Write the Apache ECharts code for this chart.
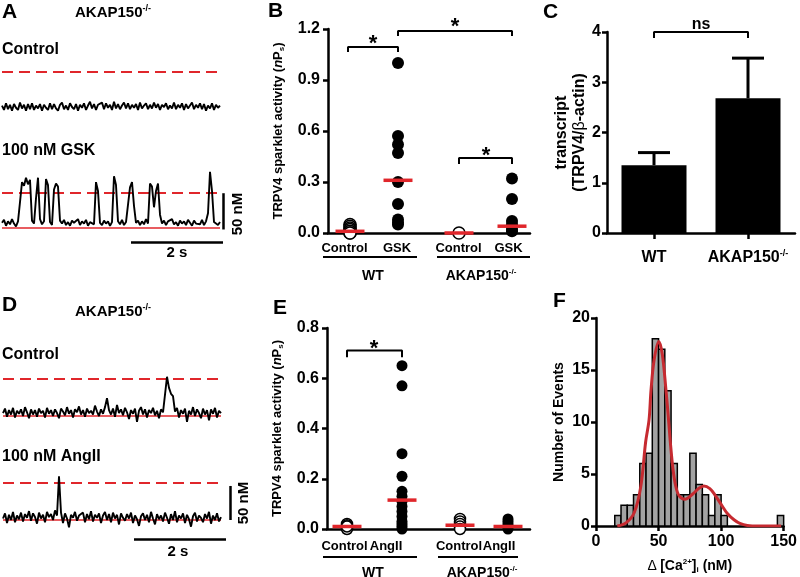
<!DOCTYPE html>
<html><head><meta charset="utf-8">
<script src="https://cdn.jsdelivr.net/npm/echarts@6/dist/echarts.min.js"></script>
<style>html,body{margin:0;padding:0;background:#fff}#c{width:800px;height:577px}</style>
</head><body><div id="c"></div>
<script>
// ================= DATA =================
// Panel A traces (nM, one sample per time step)
const traceA_control = [2,-4,5,-3,3,-5,4,-1,-4,6,-2,3,-5,4,-3,5,-4,2,-2,4,-5,3,-1,-4,5,-3,4,-2,-5,3,6,-3,2,-4,5,0,-3,4,-5,3,-1,5,-4,2,7,-2,4,-4,3,1,6,-3,5,-1,3,-4,7,-2,4,-3,2,6,-2,5,-3,3,-1,4,-4,6,-2,2,5,-3,3,-2,6,-1,4,-4,3,0,5,-3,2,-2,6,-3,3,-1,5,-4,4,-2,2,6,-3,3,-1,5,-3,4,-5,2,-2,5,-4,3,-1,2];
const traceA_gsk = [7,11,3,9,5,12,6,2,9,35,62,57,68,59,65,10,6,40,68,12,5,9,66,58,8,4,52,60,56,10,6,11,4,8,3,10,7,5,12,4,9,6,11,3,8,10,5,62,50,7,4,10,6,9,3,8,70,58,9,5,11,4,8,6,55,62,30,7,10,4,9,5,12,6,60,56,28,50,60,18,6,10,4,9,7,12,5,8,3,10,6,9,4,11,7,3,10,6,8,5,11,4,9,20,76,50,8,9,4,8];
// Panel D traces
const traceD_control = [4,10,-1,8,2,11,-2,7,3,9,0,12,5,-3,9,2,8,-1,10,4,7,-2,11,3,8,0,9,4,-3,10,6,1,12,3,8,-2,9,5,13,2,8,-1,10,4,7,2,14,6,0,9,3,12,24,8,2,10,-1,15,4,9,1,11,5,-4,8,3,10,-8,7,12,2,9,-2,8,4,11,1,7,-3,9,5,3,53,38,30,27,6,11,-2,8,3,10,-8,7,2,12,0,9,4,-3,10,2,8,-6,9,3,11,-2,7,4];
const traceD_angII = [2,9,-4,7,0,11,-3,6,1,10,-2,8,3,12,-1,9,4,-5,10,2,7,-3,11,4,8,0,13,6,59,10,-4,9,2,-10,7,3,11,-1,6,4,10,-3,8,1,12,-2,7,3,9,-4,6,11,0,8,-3,10,2,7,-6,9,3,-1,8,2,10,-4,6,1,-8,5,9,0,7,-3,11,2,-6,8,1,6,-2,10,3,-5,8,0,12,-3,6,2,9,-4,7,1,-9,5,10,-2,6,3,-3,8,2,11,-5,6,0,9,-2,4];
const traceThreshold = [47, 47, 50, 50];   // red dashed level (nM)

// Panel B
const B_categories = ['Control', 'GSK', 'Control', 'GSK'];
const B_groups = ['WT', 'AKAP150'];
const B_wtControl = [0.05, 0.04, 0.03, 0.02, 0.01, 0.0, 0.0];
const B_wtGSK = [1.0, 0.57, 0.52, 0.47, 0.30, 0.17, 0.08, 0.06, 0.05];
const B_akapControl = [0.0];
const B_akapGSK = [0.32, 0.20, 0.07, 0.05, 0.04, 0.02, 0.01];
const B_medians = [0.01, 0.31, 0.0, 0.04];

// Panel C
const C_categories = ['WT', 'AKAP150'];
const C_means = [1.35, 2.68];
const C_sem = [0.25, 0.80];

// Panel E
const E_categories = ['Control', 'AngII', 'Control', 'AngII'];
const E_wtControl = [0.02, 0.015, 0.01, 0.005, 0.0, 0.01];
const E_wtAngII = [0.65, 0.57, 0.30, 0.21, 0.15, 0.13, 0.11, 0.09, 0.07, 0.05, 0.03, 0.02, 0.01, 0.0];
const E_akapControl = [0.04, 0.03, 0.02, 0.01, 0.0];
const E_akapAngII = [0.04, 0.03, 0.02, 0.01, 0.0];
const E_medians = [0.01, 0.115, 0.015, 0.01];

// Panel F
const F_binStart = [15,20,25,30,35,40,45,50,55,60,65,70,75,80,85,90,95,100,145];
const F_counts   = [1,2,2,3,6,7,18,17,13,6,3,3,7,4,3,1,3,1,1];
const F_binWidth = 5;
const F_fitX = [17,24,30.6,35.8,39.7,42.4,44,46.5,50.2,53,55.9,58,59.4,61.5,63.8,66.5,71.1,77.6,82,86.3,91,95,101,105,110.3,115,121,130,148];
const F_fitY = [0,0.3,1.3,3.8,8.1,10.2,13.1,16,17.75,16.5,13.1,10.2,8.1,5.5,3.8,2.9,2.57,3.1,3.6,3.85,3.6,3.0,1.9,1.2,0.6,0.25,0.05,0,0];

// ================= LAYOUT / STYLE =================
const FONT = '"Liberation Sans", Arial, Helvetica, sans-serif';
const RED = '#e0262b';
const CURVE_RED = '#c62a30';
const B_dotPos = [22, 70, 131, 184];
const B_labelPos = [16.5, 69, 130.5, 180.5];
const E_dotPos = [20, 75, 133, 181];
const E_labelPos = [17.5, 59, 132, 172];

const bold = (s) => `bold ${s}px ${FONT}`;
const axisLine = {show: true, onZero: false, lineStyle: {color: '#000', width: 2.5}};
const axisTick = (len) => ({show: true, inside: false, length: len, lineStyle: {color: '#000', width: 2.5}});
const lbl = (size, margin) => ({color: '#000', fontFamily: FONT, fontWeight: 'bold', fontSize: size, margin: margin});
const supRich = (size) => ({
  b: {fontFamily: FONT, fontWeight: 'bold', fontSize: size, lineHeight: size + 2, color: '#000'},
  s: {fontFamily: FONT, fontWeight: 'bold', fontSize: Math.round(size * 0.58), lineHeight: Math.round(size * 0.65), verticalAlign: 'top', color: '#000'}
});

const traceGrids = [
  {left: 2, top: 47.8, width: 240, height: 81.4},
  {left: 2, top: 168.8, width: 240, height: 81.4},
  {left: 3, top: 356.8, width: 240, height: 81.4},
  {left: 3, top: 460.8, width: 240, height: 81.4}
];
const grids = traceGrids.concat([
  {left: 328, top: 29, width: 202, height: 204},   // B
  {left: 607, top: 32, width: 188, height: 201},   // C
  {left: 327, top: 328, width: 203, height: 201},  // E
  {left: 596, top: 318, width: 191, height: 208}   // F
]);

const xAxes = [], yAxes = [];
for (let k = 0; k < 4; k++) {
  xAxes.push({gridIndex: k, type: 'value', min: 0, max: 120, show: false});
  yAxes.push({gridIndex: k, type: 'value', min: -30, max: 80, show: false});
}
const yName = '{a|TRPV4 sparklet activity (}{i|n}{a|P}{sub|s}{a|)}';
const yNameRich = {
  a: {fontFamily: FONT, fontWeight: 'bold', fontSize: 13, lineHeight: 16, color: '#000'},
  i: {fontFamily: FONT, fontWeight: 'bold', fontStyle: 'italic', fontSize: 13, lineHeight: 16, color: '#000'},
  sub: {fontFamily: FONT, fontWeight: 'bold', fontSize: 8, lineHeight: 8, verticalAlign: 'bottom', color: '#000'}
};
// B
xAxes.push({gridIndex: 4, type: 'value', min: 0, max: 202, axisLine, axisTick: {show: false}, splitLine: {show: false},
  axisLabel: Object.assign(lbl(13, 9), {customValues: B_labelPos,
    formatter: (v) => B_categories[B_labelPos.findIndex(p => Math.abs(p - v) < 1e-6)] || ''})});
yAxes.push({gridIndex: 4, type: 'value', min: 0, max: 1.2, interval: 0.3, axisLine, axisTick: axisTick(5), splitLine: {show: false},
  axisLabel: Object.assign(lbl(16, 8), {formatter: (v) => v.toFixed(1)}),
  name: yName, nameLocation: 'middle', nameGap: 42, nameRotate: 90, nameTextStyle: {rich: yNameRich}});
// C
xAxes.push({gridIndex: 5, type: 'category', data: C_categories, axisLine, axisTick: Object.assign(axisTick(6), {alignWithLabel: true}),
  axisLabel: Object.assign(lbl(16, 16), {interval: 0, hideOverlap: false,
    formatter: (v) => v === 'AKAP150' ? '{b|AKAP150}{s|-/-}' : '{b|' + v + '}',
    rich: supRich(16)})});
yAxes.push({gridIndex: 5, type: 'value', min: 0, max: 4, interval: 1, axisLine, axisTick: axisTick(5), splitLine: {show: false},
  axisLabel: lbl(16, 6),
  name: '{a|transcript}\n{a|(TRPV4/}{g|β}{a|-actin)}', nameLocation: 'middle', nameGap: 18, nameRotate: 90,
  nameTextStyle: {rich: {a: {fontFamily: FONT, fontWeight: 'bold', fontSize: 16, lineHeight: 18, color: '#000'},
                         g: {fontFamily: FONT, fontWeight: 'normal', fontSize: 16, lineHeight: 18, color: '#000'}}}});
// E
xAxes.push({gridIndex: 6, type: 'value', min: 0, max: 203, axisLine, axisTick: {show: false}, splitLine: {show: false},
  axisLabel: Object.assign(lbl(13, 11), {customValues: E_labelPos,
    formatter: (v) => E_categories[E_labelPos.findIndex(p => Math.abs(p - v) < 1e-6)] || ''})});
yAxes.push({gridIndex: 6, type: 'value', min: 0, max: 0.8, interval: 0.2, axisLine, axisTick: axisTick(5), splitLine: {show: false},
  axisLabel: Object.assign(lbl(16, 8), {formatter: (v) => v.toFixed(1)}),
  name: yName, nameLocation: 'middle', nameGap: 42, nameRotate: 90, nameTextStyle: {rich: yNameRich}});
// F
xAxes.push({gridIndex: 7, type: 'value', min: 0, max: 150, interval: 50, axisLine, axisTick: axisTick(5), splitLine: {show: false},
  axisLabel: lbl(16, 8),
  name: '{d|Δ} {a|[Ca}{p|2+}{a|]}{u|i}{a| (nM)}', nameLocation: 'middle', nameGap: 32,
  nameTextStyle: {rich: {
    a: {fontFamily: FONT, fontWeight: 'bold', fontSize: 14, lineHeight: 16, color: '#000'},
    d: {fontFamily: FONT, fontWeight: 'normal', fontSize: 14, lineHeight: 16, color: '#000'},
    p: {fontFamily: FONT, fontWeight: 'bold', fontSize: 8, lineHeight: 9, verticalAlign: 'top', color: '#000'},
    u: {fontFamily: FONT, fontWeight: 'bold', fontSize: 8, lineHeight: 8, verticalAlign: 'bottom', color: '#000'}}}});
yAxes.push({gridIndex: 7, type: 'value', min: 0, max: 20, interval: 5, axisLine, axisTick: axisTick(5), splitLine: {show: false},
  axisLabel: lbl(16, 6),
  name: 'Number of Events', nameLocation: 'middle', nameGap: 30, nameRotate: 90,
  nameTextStyle: {fontFamily: FONT, fontWeight: 'bold', fontSize: 14, color: '#000'}});

// ================= SERIES =================
const series = [];
const traces = [traceA_control, traceA_gsk, traceD_control, traceD_angII];
const blk = (w) => ({color: '#000', width: w, type: 'solid'});
const seg = (a, b, style) => [{coord: a, lineStyle: style}, {coord: b}];
traces.forEach((tr, k) => {
  const n = tr.length - 1;
  const ml = [seg([0, traceThreshold[k]], [n, traceThreshold[k]], {color: RED, width: 2, type: [11, 6]})];
  if (k > 0) ml.push(seg([0, 0], [n, 0], {color: RED, width: 1.5, type: 'solid'}));
  if (k === 1) {
    ml.push(seg([110.5, -2], [110.5, 47], blk(2.5)));
    ml.push(seg([64.5, -19], [110.5, -19], blk(2.5)));
  }
  if (k === 3) {
    ml.push(seg([113.5, 0], [113.5, 46], blk(2.5)));
    ml.push(seg([65.5, -25.7], [111.5, -25.7], blk(2.5)));
  }
  series.push({type: 'line', xAxisIndex: k, yAxisIndex: k, data: tr.map((v, i) => [i, v]),
    showSymbol: false, symbol: 'none', lineStyle: {color: '#000', width: 1.9}, z: 3,
    markLine: {silent: true, symbol: ['none', 'none'], label: {show: false}, animation: false, z: 2, data: ml}});
});

function dotSeries(ax, pos, vals, open, size) {
  return {type: 'scatter', xAxisIndex: ax, yAxisIndex: ax, data: vals.map(v => [pos, v]), symbol: 'circle', symbolSize: size,
    itemStyle: open ? {color: '#fff', borderColor: '#000', borderWidth: 1.5, opacity: 1} : {color: '#000', opacity: 1}, z: 4};
}
function medianSeries(ax, posArr, meds, w) {
  return {type: 'scatter', xAxisIndex: ax, yAxisIndex: ax, data: meds.map((m, i) => [posArr[i], m]), symbol: 'rect',
    symbolSize: [w, 3.5], itemStyle: {color: RED, opacity: 1}, z: 6};
}
function bracket(ax, x1, x2, yTop, yEnd) {
  return {type: 'line', xAxisIndex: ax, yAxisIndex: ax, data: [[x1, yEnd], [x1, yTop], [x2, yTop], [x2, yEnd]],
    symbol: 'none', showSymbol: false, clip: false, lineStyle: {color: '#000', width: 2}, z: 5};
}
// B
series.push(dotSeries(4, B_dotPos[0], B_wtControl, true, 12));
series.push(dotSeries(4, B_dotPos[1], B_wtGSK, false, 12));
series.push(dotSeries(4, B_dotPos[2], B_akapControl, true, 12));
series.push(dotSeries(4, B_dotPos[3], B_akapGSK, false, 12));
series.push(medianSeries(4, B_dotPos, B_medians, 29));
series.push(bracket(4, B_dotPos[0] - 2, B_dotPos[1], 1.094, 1.065));
series.push(bracket(4, B_dotPos[1], B_dotPos[3], 1.188, 1.159));
series.push(bracket(4, B_dotPos[2], B_dotPos[3], 0.441, 0.406));
// C
series.push({type: 'bar', xAxisIndex: 5, yAxisIndex: 5, data: C_means, barWidth: 65, itemStyle: {color: '#000'}, z: 3});
series.push({type: 'custom', xAxisIndex: 5, yAxisIndex: 5, z: 4, clip: false,
  data: C_means.map((m, i) => [i, m, m + C_sem[i]]),
  renderItem: (params, api) => {
    const x = api.value(0);
    const p0 = api.coord([x, api.value(1)]), p1 = api.coord([x, api.value(2)]);
    const hw = 16;
    return {type: 'group', children: [
      {type: 'line', shape: {x1: p0[0], y1: p0[1], x2: p1[0], y2: p1[1]}, style: {stroke: '#000', lineWidth: 3}},
      {type: 'line', shape: {x1: p1[0] - hw, y1: p1[1], x2: p1[0] + hw, y2: p1[1]}, style: {stroke: '#000', lineWidth: 3}}
    ]};
  }});
series.push(bracket(5, 0, 1, 4.0, 3.88));
// E
series.push(dotSeries(6, E_dotPos[0], E_wtControl, true, 11));
series.push(dotSeries(6, E_dotPos[1], E_wtAngII, false, 11));
series.push(dotSeries(6, E_dotPos[2], E_akapControl, true, 11));
series.push(dotSeries(6, E_dotPos[3], E_akapAngII, false, 11));
series.push(medianSeries(6, E_dotPos, E_medians, 29));
series.push(bracket(6, E_dotPos[0], E_dotPos[1], 0.71, 0.684));
// F
series.push({type: 'custom', xAxisIndex: 7, yAxisIndex: 7, z: 3,
  data: F_binStart.map((s, i) => [s, F_counts[i]]),
  renderItem: (params, api) => {
    const s = api.value(0), c = api.value(1);
    const p0 = api.coord([s, c]), p1 = api.coord([s + F_binWidth, 0]);
    return {type: 'rect', shape: {x: p0[0], y: p0[1], width: p1[0] - p0[0], height: p1[1] - p0[1]},
      style: {fill: '#a3a3a3', stroke: '#000', lineWidth: 1.5}};
  }});
series.push({type: 'line', xAxisIndex: 7, yAxisIndex: 7, data: F_fitX.map((x, i) => [x, F_fitY[i]]), smooth: 0.35,
  symbol: 'none', showSymbol: false, lineStyle: {color: CURVE_RED, width: 3}, z: 5});

// ================= TEXT / ANNOTATIONS =================
function T(text, x, y, size, align, vAlign, extra) {
  return Object.assign({type: 'text', x, y, silent: true, z: 100,
    style: {text, fill: '#000', font: bold(size), align: align || 'left', verticalAlign: vAlign || 'middle'}}, extra || {});
}
function R(text, x, y, align, size) {
  return {type: 'text', x, y, silent: true, z: 100,
    style: {text, fill: '#000', align: align || 'left', verticalAlign: 'middle', rich: supRich(size)}};
}
function L(x1, y1, x2, y2, w) {
  return {type: 'line', silent: true, z: 100, shape: {x1, y1, x2, y2}, style: {stroke: '#000', lineWidth: w || 2}};
}
const akapLabel = '{b|' + B_groups[1] + '}{s|-/-}';
const graphic = [
  T('A', 2, 12, 21), T('B', 268, 11, 21), T('C', 543, 12, 21),
  T('D', 2, 305, 21), T('E', 273, 308, 21), T('F', 553, 301, 21),
  R(akapLabel, 75, 13, 'left', 15), R(akapLabel, 75, 312, 'left', 15),
  T('Control', 2, 50, 16), T('100 nM GSK', 2, 151, 16),
  T('Control', 2, 355, 16), T('100 nM AngII', 2, 457, 16),
  T('50 nM', 238, 214, 15, 'center', 'middle', {rotation: Math.PI / 2}),
  T('2 s', 177, 253, 15, 'center'),
  T('50 nM', 244, 503, 15, 'center', 'middle', {rotation: Math.PI / 2}),
  T('2 s', 178, 552, 15, 'center'),
  // B groups
  L(323, 257, 417, 257), L(437, 257, 530, 257),
  T(B_groups[0], 373, 276, 14, 'center'), R(akapLabel, 481, 276, 'center', 14),
  // E groups
  L(323, 557, 417, 557), L(438, 557, 518, 557),
  T(B_groups[0], 373, 573, 14, 'center'), R(akapLabel, 482, 573, 'center', 14),
  // significance
  T('*', 373, 44, 22, 'center'), T('*', 455, 27, 22, 'center'), T('*', 486, 156, 22, 'center'),
  T('*', 374, 349, 22, 'center'), T('ns', 701, 25, 16, 'center')
];

const chart = echarts.init(document.getElementById('c'), null, {renderer: 'canvas'});
chart.setOption({
  animation: false, backgroundColor: '#fff',
  grid: grids, xAxis: xAxes, yAxis: yAxes, series, graphic
});
</script></body></html>
